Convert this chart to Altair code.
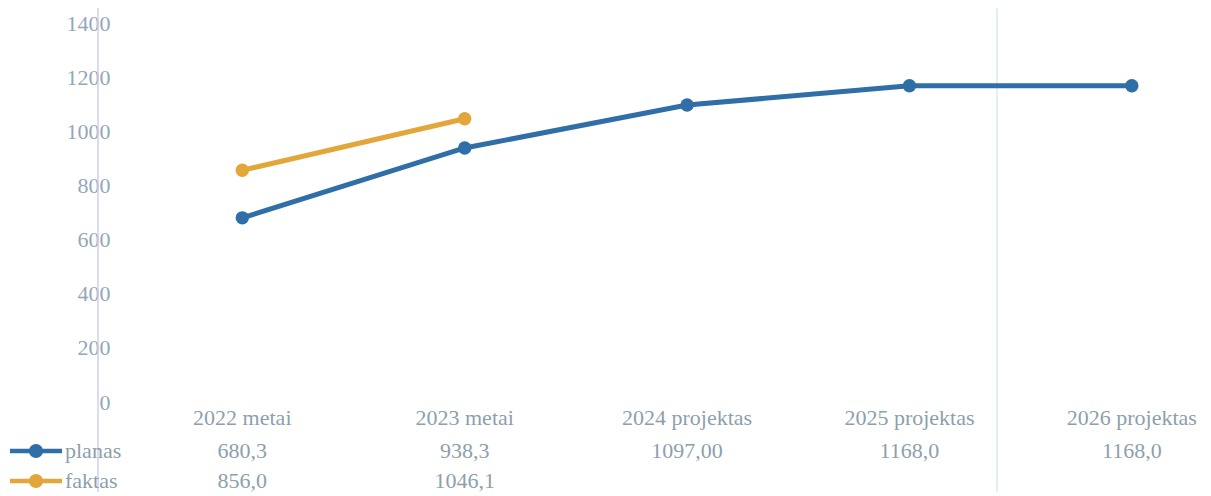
import altair as alt
import pandas as pd

# ---- data ----
categories = ["2022 metai", "2023 metai", "2024 projektas", "2025 projektas", "2026 projektas"]
planas = [680.3, 938.3, 1097.0, 1168.0, 1168.0]
faktas = [856.0, 1046.1]
planas_labels = ["680,3", "938,3", "1097,00", "1168,0", "1168,0"]
faktas_labels = ["856,0", "1046,1"]
series = ["planas", "faktas"]
colors = ["#2f6ea6", "#e3a63a"]
y_ticks = [0, 200, 400, 600, 800, 1000, 1200, 1400]

# ---- layout ----
W, H = 1083, 379
FONT = "Liberation Serif"
TXT = "#8d9fad"
FS = 22

rows = []
for i, v in enumerate(planas):
    rows.append({"idx": i, "value": v, "series": "planas"})
for i, v in enumerate(faktas):
    rows.append({"idx": i, "value": v, "series": "faktas"})
df = pd.DataFrame(rows)

xs = alt.Scale(domain=[-0.55, 4.32], nice=False, zero=False)
ys = alt.Scale(domain=[0, 1400], nice=False)
cs = alt.Scale(domain=series, range=colors)

x_enc = alt.X("idx:Q", scale=xs, axis=None)
y_enc = alt.Y("value:Q", scale=ys,
              axis=alt.Axis(values=y_ticks, format="d", domain=False, ticks=False, grid=False,
                            labelFont=FONT, labelFontSize=FS, labelColor="#93a7b8",
                            labelPadding=10, title=None))

base = alt.Chart(df)

# faint scan lines
scan = pd.DataFrame({"k": [0]})
scan1 = alt.Chart(scan).mark_rule(color="#cfcfee", strokeWidth=1.5).encode(
    x=alt.value(-22), y=alt.value(-15), y2=alt.value(H + 90))
scan2 = alt.Chart(scan).mark_rule(color="#d3e5f5", strokeWidth=1.3).encode(
    x=alt.value(877), y=alt.value(-15), y2=alt.value(H + 90))

lines = base.mark_line(strokeWidth=5).encode(
    x=x_enc, y=y_enc, color=alt.Color("series:N", scale=cs, legend=None), detail="series:N")
points = base.mark_circle(size=180, opacity=1).encode(
    x=x_enc, y=y_enc, color=alt.Color("series:N", scale=cs, legend=None))

cat_df = pd.DataFrame({"idx": list(range(len(categories))), "label": categories})
cat_text = alt.Chart(cat_df).mark_text(font=FONT, fontSize=FS, color=TXT, baseline="middle").encode(
    x=alt.X("idx:Q", scale=xs, axis=None), y=alt.value(395), text="label:N")

layers = [scan1, scan2, lines, points, cat_text]

row_y = [428, 458]
for si, (name, labels) in enumerate([("planas", planas_labels), ("faktas", faktas_labels)]):
    tdf = pd.DataFrame({"idx": list(range(len(labels))), "label": labels})
    layers.append(alt.Chart(tdf).mark_text(font=FONT, fontSize=FS, color=TXT, baseline="middle").encode(
        x=alt.X("idx:Q", scale=xs, axis=None), y=alt.value(row_y[si]), text="label:N"))
    ldf = pd.DataFrame({"series": [name]})
    layers.append(alt.Chart(ldf).mark_rule(strokeWidth=4.5).encode(
        x=alt.value(-110), x2=alt.value(-58), y=alt.value(row_y[si]),
        color=alt.Color("series:N", scale=cs, legend=None)))
    layers.append(alt.Chart(ldf).mark_circle(size=200, opacity=1).encode(
        x=alt.value(-84), y=alt.value(row_y[si]),
        color=alt.Color("series:N", scale=cs, legend=None)))
    layers.append(alt.Chart(ldf).mark_text(font=FONT, fontSize=FS, color=TXT, align="left",
                                           baseline="middle").encode(
        x=alt.value(-55), y=alt.value(row_y[si]), text="series:N"))

chart = alt.layer(*layers).properties(
    width=W, height=H,
    background="white",
    autosize=alt.AutoSizeParams(type="none"),
    padding={"left": 112, "top": 15, "right": 0, "bottom": 90},
).configure_view(strokeWidth=0, stroke=None)

chart.save("out.html", embed_options={"renderer": "svg", "actions": False})
